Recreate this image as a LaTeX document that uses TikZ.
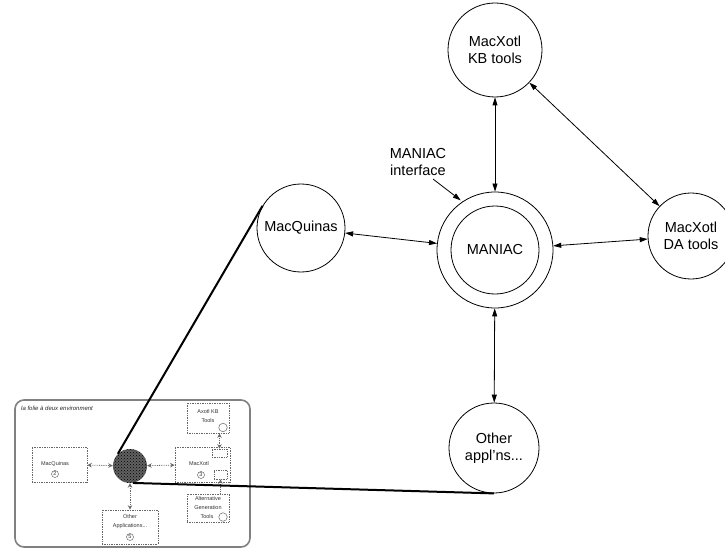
\documentclass[tikz,border=0pt]{standalone}
\usepackage{fontspec}
\setmainfont{Liberation Sans}
\usetikzlibrary{arrows.meta,patterns}
\begin{document}
\begin{tikzpicture}[x=1pt,y=-1pt,
  big/.style={circle,draw,line width=0.8pt,minimum size=#1,inner sep=0pt,align=center,
    font=\fontsize{14.5}{17.5}\selectfont},
  dbl/.style={line width=0.8pt,{Triangle[length=8pt,width=5pt]}-{Triangle[length=8pt,width=5pt]}},
  sgl/.style={line width=0.8pt,-{Triangle[length=8pt,width=5pt]}},
  sbox/.style={draw=black!60,densely dotted,line width=0.7pt,inner sep=0pt,fill=white},
  stxt/.style={font=\fontsize{5.5}{9}\selectfont,inner sep=0pt,align=center,text=black!80},
  cnum/.style={circle,draw=black!70,line width=0.4pt,inner sep=0pt,minimum size=7pt,
    font=\fontsize{5.5}{6}\selectfont,text=black!80},
  smc/.style={circle,draw=black!60,line width=0.5pt,fill=white,minimum size=8.5pt,inner sep=0pt},
  sarr/.style={draw=black!60,densely dotted,line width=0.8pt,
    {Stealth[open,length=4.5pt,width=4.5pt]}-{Stealth[open,length=4.5pt,width=4.5pt]}},
  sarr1/.style={draw=black!60,densely dotted,line width=0.8pt,-{Stealth[open,length=4.5pt,width=4.5pt]}},
  thick/.style={line width=2pt}
]
\useasboundingbox (0,0) rectangle (725,556);

% main diagram
\node[big=94] (kb) at (495,50) {MacXotl\\KB tools};
\node[big=116] (outer) at (495,250) {};
\node[big=88] (inner) at (495,250) {MANIAC};
\node[big=88] (mq) at (301,228) {MacQuinas};
\node[big=86] (da) at (691,236) {MacXotl\\DA tools};
\node[big=90] (oth) at (494,448) {Other\\appl'ns...};
\node[align=center,inner sep=0pt,font=\fontsize{14.5}{17}\selectfont] (lbl) at (418,162) {MANIAC\\interface};
\coordinate (lblstart) at (433,179);

\draw[dbl] (kb) -- (outer);
\draw[dbl] (kb) -- (da);
\draw[dbl] (mq) -- (outer);
\draw[dbl] (outer) -- (da);
\draw[dbl] (outer) -- (oth);
\draw[sgl,shorten >=2pt] (lblstart) -- (outer.124);

% la folie a deux environment
\node[draw=black!50,line width=1.6pt,rounded corners=9pt,minimum width=235pt,minimum height=147pt,inner sep=0pt] (env) at (132.5,473.5) {};
\node[anchor=west,inner sep=0pt,font=\fontsize{6}{7}\selectfont\itshape,text=black!85] (title) at (21,408) {la folie à deux environment};

\node[sbox,minimum width=55pt,minimum height=35pt] (mqbox) at (59.5,464.5) {};
\node[stxt] (mqt) at (55,464) {MacQuinas};
\node[cnum] (n2) at (55,474) {2};

\node[sbox,minimum width=55pt,minimum height=35pt] (xbox) at (202.5,464.5) {};
\node[stxt] (xt) at (199,464) {MacXotl};
\node[cnum] (n3) at (201,475) {3};
\node[sbox,minimum width=15pt,minimum height=8pt] (up) at (219.5,453) {};
\node[sbox,minimum width=13pt,minimum height=9pt] (low) at (220.5,474.5) {};

\node[sbox,minimum width=42pt,minimum height=30pt] (axbox) at (208,418) {};
\node[stxt] (axt) at (208,416.5) {Axotl KB\\Tools};
\node[smc] (axc) at (223,427.5) {};

\node[sbox,minimum width=42pt,minimum height=28pt] (altbox) at (208,508) {};
\node[stxt] (altt) at (208,503.5) {Alternative\\Generation};
\node[stxt] (altt2) at (207,517) {Tools};
\node[smc] (altc) at (223,517) {};

\node[sbox,minimum width=56pt,minimum height=34pt] (obox) at (130,527) {};
\node[stxt] (ot) at (130,522) {Other\\Applications...};
\node[cnum] (n5) at (130,537) {5};

\node[circle,minimum size=34pt,inner sep=0pt,preaction={fill=black!62},
  pattern=crosshatch dots,pattern color=black] (hub) at (130,466) {};

\draw[sarr] (mqbox) -- (hub);
\draw[sarr] (hub) -- (xbox);
\draw[sarr] (hub) -- (obox);
\draw[sarr] (axbox.south -| up.north) -- (up.north);
\draw[sarr1] (altbox.north -| low.south) -- (low.south);

% thick connectors
\draw[thick] (hub.135) -- (mq.150);
\draw[thick] (hub.-80) -- (oth.south);
\end{tikzpicture}
\end{document}
